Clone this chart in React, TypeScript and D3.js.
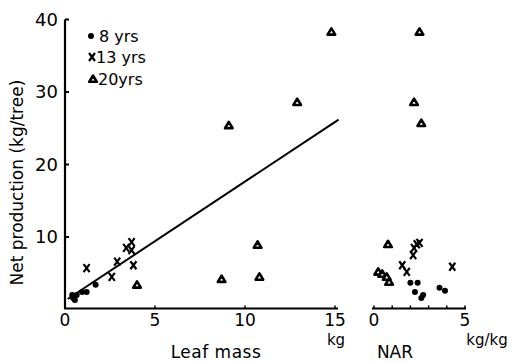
import React from 'react';
import * as d3 from 'd3';

// leaf mass panel (kg) vs net production (kg/tree)
const leaf8x = [0.4, 0.45, 0.55, 0.65, 0.95, 1.2, 1.7];
const leaf8y = [2.0, 1.6, 1.3, 2.0, 2.4, 2.4, 3.4];
const leaf13x = [1.2, 2.6, 2.9, 3.4, 3.7, 3.7, 3.8];
const leaf13y = [5.7, 4.5, 6.6, 8.5, 9.3, 8.2, 6.1];
const leaf20x = [14.8, 12.9, 9.1, 10.7, 8.7, 10.8, 4.0];
const leaf20y = [38.3, 28.6, 25.4, 8.9, 4.2, 4.5, 3.4];

// NAR panel (kg/kg)
const nar8x = [2.0, 2.4, 2.25, 2.6, 2.7, 3.6, 3.9];
const nar8y = [3.7, 3.7, 2.4, 1.6, 2.0, 3.0, 2.6];
const nar13x = [2.35, 2.5, 2.2, 2.15, 1.55, 1.8, 4.3];
const nar13y = [9.0, 9.2, 8.5, 7.5, 6.1, 5.2, 5.9];
const nar20x = [2.5, 2.2, 2.6, 0.77, 0.23, 0.45, 0.7, 0.83];
const nar20y = [38.3, 28.6, 25.7, 9.0, 5.2, 4.9, 4.5, 3.8];

// regression line endpoints (leaf mass)
const fitX = [0.15, 15.2];
const fitY = [1.45, 26.2];

const yTicks = [10, 20, 30, 40];
const leafTicks = [0, 5, 10, 15];
const narTicks = [0, 1, 2, 3, 4, 5];
const narLabels = [0, 5];

const legend = ['8  yrs', '13 yrs', '20yrs'];

const FONT = '"DejaVu Sans", sans-serif';

const zip = (xs: number[], ys: number[]) => xs.map((x, i) => [x, ys[i]] as [number, number]);

const Dot = ({ x, y }: { x: number; y: number }) => <circle cx={x} cy={y} r={3} fill="#000" />;
const Cross = ({ x, y }: { x: number; y: number }) => (
  <path d={`M${x - 3},${y - 4}L${x + 3},${y + 4}M${x + 3},${y - 4}L${x - 3},${y + 4}`} stroke="#000" strokeWidth={2.2} fill="none" />
);
const Tri = ({ x, y }: { x: number; y: number }) => (
  <path d={`M${x},${y - 3.5}L${x + 3.8},${y + 2.8}L${x - 3.8},${y + 2.8}Z`} stroke="#000" strokeWidth={2.6} fill="#fff" strokeLinejoin="round" />
);

export default function App() {
  const W = 512;
  const H = 363;
  const y = d3.scaleLinear().domain([0, 40]).range([309.5, 19.5]);
  const xL = d3.scaleLinear().domain([0, 15]).range([65, 335]);
  const xR = d3.scaleLinear().domain([0, 5]).range([374, 465]);
  const line = d3.line<[number, number]>().x(d => xL(d[0])).y(d => y(d[1]));

  return (
    <svg width={W} height={H} style={{ position: 'absolute', left: 0, top: 0, background: '#fff' }} fontFamily={FONT}>
      {/* y axis */}
      <line x1={xL(0)} x2={xL(0)} y1={y(0) - 1} y2={y(40)} stroke="#000" strokeWidth={2.2} />
      {yTicks.map(t => (
        <g key={t}>
          <line x1={xL(0)} x2={xL(0) + 4} y1={y(t)} y2={y(t)} stroke="#000" strokeWidth={2} />
          <text x={xL(0) - 7} y={y(t)} dy="0.36em" textAnchor="end" fontSize={18}>{t}</text>
        </g>
      ))}
      <text transform={`translate(23,${y(17.5)}) rotate(-90)`} textAnchor="middle" fontSize={17}>Net production (kg/tree)</text>

      {/* leaf mass x axis */}
      <line x1={xL(0) - 1} x2={xL(15) + 3} y1={y(0) - 1} y2={y(0) - 1} stroke="#000" strokeWidth={2.2} />
      {leafTicks.slice(1).map(t => (
        <line key={t} x1={xL(t)} x2={xL(t)} y1={y(0) - 1} y2={y(0) - 4} stroke="#000" strokeWidth={1.5} />
      ))}
      {leafTicks.map(t => (
        <text key={t} x={xL(t)} y={326} textAnchor="middle" fontSize={17}>{t}</text>
      ))}
      <text x={216} y={358} textAnchor="middle" fontSize={17} letterSpacing={0.5}>Leaf  mass</text>
      <text x={xL(15) + 1} y={345} textAnchor="middle" fontSize={15}>kg</text>

      {/* NAR x axis */}
      <line x1={xR(0) - 2} x2={xR(5) + 1} y1={y(0) - 1} y2={y(0) - 1} stroke="#000" strokeWidth={2.2} />
      {narTicks.map(t => (
        <line key={t} x1={xR(t)} x2={xR(t)} y1={y(0) - 1} y2={y(0) - 4} stroke="#000" strokeWidth={1.5} />
      ))}
      {narLabels.map(t => (
        <text key={t} x={xR(t)} y={326} textAnchor="middle" fontSize={17}>{t}</text>
      ))}
      <text x={395} y={358} textAnchor="middle" fontSize={17}>NAR</text>
      <text x={487} y={345} textAnchor="middle" fontSize={15}>kg/kg</text>

      {/* regression line */}
      <path d={line(zip(fitX, fitY)) || ''} stroke="#000" strokeWidth={2} fill="none" />

      {/* points */}
      {zip(leaf8x, leaf8y).map(([a, b], i) => <Dot key={'l8' + i} x={xL(a)} y={y(b)} />)}
      {zip(leaf13x, leaf13y).map(([a, b], i) => <Cross key={'l13' + i} x={xL(a)} y={y(b)} />)}
      {zip(leaf20x, leaf20y).map(([a, b], i) => <Tri key={'l20' + i} x={xL(a)} y={y(b)} />)}
      {zip(nar8x, nar8y).map(([a, b], i) => <Dot key={'n8' + i} x={xR(a)} y={y(b)} />)}
      {zip(nar13x, nar13y).map(([a, b], i) => <Cross key={'n13' + i} x={xR(a)} y={y(b)} />)}
      {zip(nar20x, nar20y).map(([a, b], i) => <Tri key={'n20' + i} x={xR(a)} y={y(b)} />)}

      {/* legend */}
      <Dot x={91} y={36} />
      <text x={99} y={42} fontSize={16}>{legend[0]}</text>
      <Cross x={92} y={57} />
      <text x={96} y={63} fontSize={16}>{legend[1]}</text>
      <Tri x={93} y={79} />
      <text x={98} y={85} fontSize={16}>{legend[2]}</text>
    </svg>
  );
}
